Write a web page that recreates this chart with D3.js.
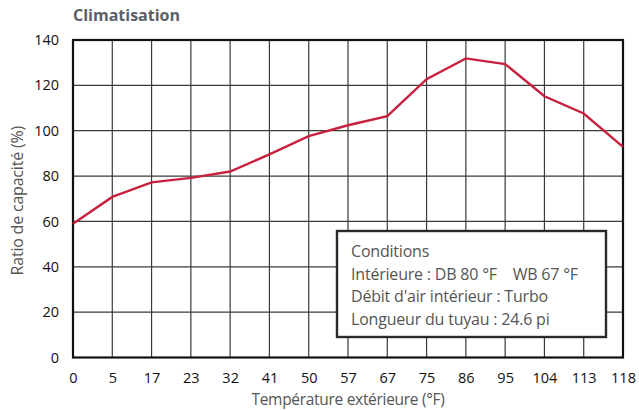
<!DOCTYPE html>
<html>
<head>
<meta charset="utf-8">
<script src="https://cdn.jsdelivr.net/npm/d3@7"></script>
<style>
  body { margin: 0; background: #fff; }
  text { font-family: "Open Sans", sans-serif; }
</style>
</head>
<body>
<script>
// data
const temps = ['0', '5', '17', '23', '32', '41', '50', '57', '67', '75', '86', '95', '104', '113', '118']
const ratios = [59, 70.8, 77.2, 79.2, 82, 89.6, 97.6, 102.4, 106.4, 122.7, 131.9, 129.4, 115.2, 107.6, 92.9]
const yTicks = [0, 20, 40, 60, 80, 100, 120, 140]
const conditions = [
    'Conditions',
    'Intérieure : DB 80 °F    WB 67 °F',
    "Débit d'air intérieur : Turbo",
    'Longueur du tuyau : 24.6 pi'
]

function main(){
    const width = 639
    const height = 410
    const margin = { top: 40, right: 16, bottom: 52, left: 73 }

    let svg = d3.select('body')
        .append('svg')
        .attr('width', width)
        .attr('height', height)

    let xScale = d3.scalePoint()
        .domain(temps)
        .range([margin.left, width - margin.right])
    let yScale = d3.scaleLinear()
        .domain([0, 140])
        .range([height - margin.bottom - 0.5, margin.top])

    // grid
    svg.append('g')
        .selectAll('line')
        .data(temps)
        .enter()
        .append('line')
        .attr('x1', d => xScale(d))
        .attr('x2', d => xScale(d))
        .attr('y1', yScale(0))
        .attr('y2', yScale(140))
        .attr('stroke', '#3a3a3a')
        .attr('stroke-width', 1.2)
    svg.append('g')
        .selectAll('line')
        .data(yTicks)
        .enter()
        .append('line')
        .attr('x1', xScale.range()[0])
        .attr('x2', xScale.range()[1])
        .attr('y1', d => yScale(d))
        .attr('y2', d => yScale(d))
        .attr('stroke', '#3a3a3a')
        .attr('stroke-width', 1.2)

    // frame
    svg.append('rect')
        .attr('x', xScale.range()[0])
        .attr('y', yScale(140))
        .attr('width', xScale.range()[1] - xScale.range()[0])
        .attr('height', yScale(0) - yScale(140))
        .attr('fill', 'none')
        .attr('stroke', '#111')
        .attr('stroke-width', 2.2)

    // axes
    let xAxis = svg.append('g')
        .attr('transform', `translate(0,${yScale(0)})`)
        .call(d3.axisBottom(xScale).tickSize(0).tickPadding(15))
    let yAxis = svg.append('g')
        .attr('transform', `translate(${xScale.range()[0]},0)`)
        .call(d3.axisLeft(yScale).tickValues(yTicks).tickSize(0).tickPadding(14))
    svg.selectAll('.domain').remove()
    svg.selectAll('.tick text')
        .attr('font-family', '"Open Sans", sans-serif')
        .attr('font-size', '14.5px')
        .attr('fill', '#111')

    // line
    let line = d3.line()
        .x((d, i) => xScale(temps[i]))
        .y(d => yScale(d))
    svg.append('path')
        .datum(ratios)
        .attr('d', line)
        .attr('fill', 'none')
        .attr('stroke', '#c8203f')
        .attr('stroke-width', 2.4)

    // conditions box
    const box = { x: 337, y: 231, w: 269, h: 106 }
    svg.append('rect')
        .attr('x', box.x)
        .attr('y', box.y)
        .attr('width', box.w)
        .attr('height', box.h)
        .attr('fill', '#fff')
        .attr('stroke', '#2a2a2a')
        .attr('stroke-width', 2.4)
    svg.append('g')
        .selectAll('text')
        .data(conditions)
        .enter()
        .append('text')
        .attr('x', box.x + 14)
        .attr('y', (d, i) => box.y + 26 + i * 22.5)
        .attr('font-size', '16px')
        .attr('letter-spacing', '-0.2px')
        .attr('fill', '#555')
        .attr('xml:space', 'preserve')
        .style('white-space', 'pre')
        .text(d => d)

    // titles
    svg.append('text')
        .attr('x', 73)
        .attr('y', 21)
        .attr('font-size', '16px')
        .attr('font-weight', 'bold')
        .attr('fill', '#5a6068')
        .text('Climatisation')
    svg.append('text')
        .attr('x', (xScale.range()[0] + xScale.range()[1]) / 2)
        .attr('y', 405)
        .attr('text-anchor', 'middle')
        .attr('font-size', '15.5px')
        .attr('letter-spacing', '-0.3px')
        .attr('fill', '#555')
        .text('Température extérieure (°F)')
    svg.append('text')
        .attr('transform', `translate(23,${(yScale(0) + yScale(140)) / 2 + 2}) rotate(-90)`)
        .attr('text-anchor', 'middle')
        .attr('font-size', '16px')
        .attr('letter-spacing', '-0.2px')
        .attr('fill', '#555')
        .text('Ratio de capacité (%)')
}

main()
</script>
</body>
</html>
